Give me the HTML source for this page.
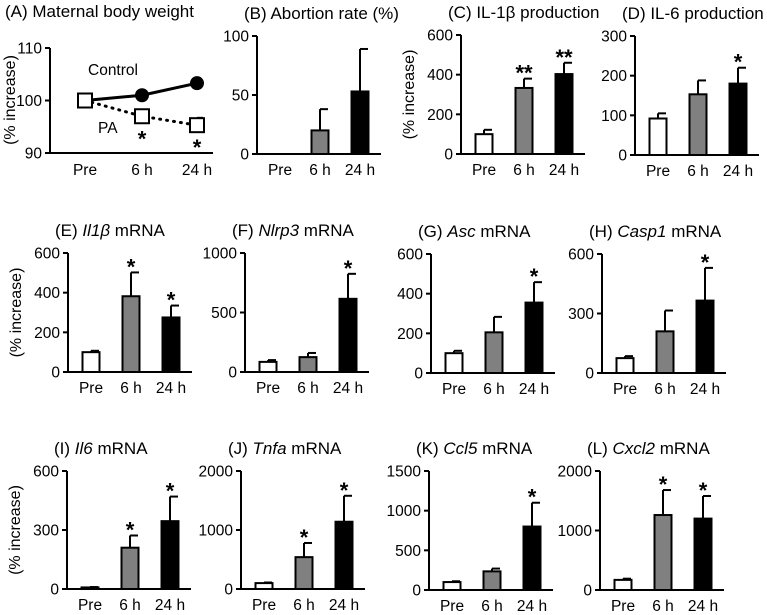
<!DOCTYPE html>
<html><head><meta charset="utf-8"><style>
body{margin:0;background:#fff}
svg{display:block;font-family:"Liberation Sans",Arial,sans-serif}
</style></head><body>
<svg id="fig" width="767" height="615" viewBox="0 0 767 615"></svg>
<script>
const categories = ["Pre","6 h","24 h"];
// Panel A line data
const controlWeight = [100, 101, 103.3];
const controlErr = [0, 0.3, 1.0];
const paWeight = [100, 97, 95.3];
const paErr = [0, 0.3, 1.4];
const paStars = [false, true, true];
const aTicks = [90, 100, 110];
// Bar panels
const valsB = [0, 20, 53];      const errB = [0, 18, 36];
const valsC = [100, 333, 403];  const errC = [22, 47, 57];
const valsD = [92, 153, 180];   const errD = [13, 35, 40];
const valsE = [100, 382, 275];  const errE = [7, 120, 60];
const valsF = [85, 125, 615];   const errF = [15, 35, 210];
const valsG = [100, 205, 355];  const errG = [12, 78, 103];
const valsH = [75, 210, 365];   const errH = [10, 105, 165];
const valsI = [8, 210, 345];    const errI = [2, 62, 125];
const valsJ = [100, 540, 1140]; const errJ = [10, 240, 440];
const valsK = [100, 235, 800];  const errK = [10, 35, 300];
const valsL = [170, 1260, 1200];const errL = [20, 420, 380];
const starsB=["","",""], starsC=["","**","**"], starsD=["","","*"], starsE=["","*","*"],
      starsF=["","","*"], starsG=["","","*"], starsH=["","","*"], starsI=["","*","*"],
      starsJ=["","*","*"], starsK=["","","*"], starsL=["","*","*"];
const ticksB=[0,50,100], ticksC=[0,200,400,600], ticksD=[0,100,200,300], ticksE=[0,200,400,600],
      ticksF=[0,500,1000], ticksG=[0,200,400,600], ticksH=[0,300,600], ticksI=[0,300,600],
      ticksJ=[0,1000,2000], ticksK=[0,500,1000,1500], ticksL=[0,1000,2000];

const svg = document.getElementById('fig');
const NS = "http://www.w3.org/2000/svg";
function el(tag, attrs, parent, text){
  const e = document.createElementNS(NS, tag);
  for (const k in attrs) e.setAttribute(k, attrs[k]);
  if (text !== undefined) e.textContent = text;
  (parent||svg).appendChild(e);
  return e;
}
function titleText(g, x, y, parts){
  const t = el('text', {x:x, y:y, 'font-size':17}, g);
  
  
  parts.forEach(p=>{ el('tspan', p[1]?{'font-style':'italic'}:{}, t, p[0]); });
}
function ylabel(g, x, yc){
  const t = el('text', {x:x, y:yc, 'font-size':16, 'text-anchor':'middle', transform:`rotate(-90 ${x} ${yc})`}, g, "(% increase)");
  
  
}
function axes(g, ax, top, zero, len, ticks, max, min){
  const sy = v => zero - (v-min)/(max-min)*(zero-top);
  el('line', {x1:ax, y1:top, x2:ax, y2:zero, stroke:'#000','stroke-width':2}, g);
  el('line', {x1:ax-1, y1:zero, x2:ax+len, y2:zero, stroke:'#000','stroke-width':2}, g);
  ticks.forEach(v=>{
    el('line', {x1:ax-5, y1:sy(v), x2:ax, y2:sy(v), stroke:'#000','stroke-width':2}, g);
    const t = el('text', {x:ax-8, y:sy(v)+5.5, 'font-size':15.5, 'text-anchor':'end'}, g, v);
    
    
  });
  return sy;
}
const offs = [23, 63, 103];
function xlabels(g, ax, zero){
  categories.forEach((c,i)=>{
    const t = el('text', {x:ax+offs[i], y:zero+21, 'font-size':15.5, 'text-anchor':'middle'}, g, c);
    
    
  });
}
function barPanel(name, ax, top, zero, ticks, vals, errs, stars, title, ylab){
  const g = el('g', {});
  
  
  titleText(g, ax-13, top-17, title);
  const sy = axes(g, ax, top, zero, 124, ticks, ticks[ticks.length-1], 0);
  const fills = ['#fff','#808080','#000'];
  vals.forEach((v,i)=>{
    const cx = ax+offs[i];
    if (errs[i]>0 && v>0){
      el('line', {x1:cx, y1:sy(v), x2:cx, y2:sy(v+errs[i]), stroke:'#000','stroke-width':2}, g);
      el('line', {x1:cx, y1:sy(v+errs[i]), x2:cx+8, y2:sy(v+errs[i]), stroke:'#000','stroke-width':2}, g);
    }
    if (v>0){
      const r = el('rect', {x:cx-8.5, y:sy(v), width:17, height:zero-sy(v), fill:fills[i], stroke:'#000','stroke-width':2}, g);
      
      
    }
    if (stars[i]){
      const t = el('text', {x:cx, y:sy(v+errs[i])+2, 'font-size':22, 'font-weight':'bold', 'text-anchor':'middle'}, g, stars[i]);
      
      
    }
  });
  xlabels(g, ax, zero);
  if (ylab) ylabel(g, ax-47, (top+zero)/2);
}
// Panel A
(function(){
  const g = el('g', {});
  
  
  titleText(g, 5, 17, [["(A) Maternal body weight",false]]);
  const ax=50, top=48, zero=153;
  const sy = axes(g, ax, top, zero, 163, aTicks, 110, 90);
  const px = [85, 142, 197];
  el('polyline', {points: controlWeight.map((v,i)=>px[i]+','+sy(v)).join(' '), fill:'none', stroke:'#000','stroke-width':3}, g);
  el('polyline', {points: paWeight.map((v,i)=>px[i]+','+sy(v)).join(' '), fill:'none', stroke:'#000','stroke-width':3,'stroke-dasharray':'1 6','stroke-linecap':'round'}, g);
  controlWeight.forEach((v,i)=>{
    if (i===0) return;
    el('line', {x1:px[i], y1:sy(v), x2:px[i], y2:sy(v+controlErr[i]), stroke:'#000','stroke-width':2}, g);
    const c = el('circle', {cx:px[i], cy:sy(v), r:7, fill:'#000'}, g);
    
    
  });
  paWeight.forEach((v,i)=>{
    if (paErr[i]>0){
      el('line', {x1:px[i], y1:sy(v), x2:px[i], y2:sy(v+paErr[i]), stroke:'#000','stroke-width':2}, g);
      el('line', {x1:px[i], y1:sy(v+paErr[i]), x2:px[i]+6, y2:sy(v+paErr[i]), stroke:'#000','stroke-width':2}, g);
    }
    const r = el('rect', {x:px[i]-7, y:sy(v)-7, width:14, height:14, fill:'#fff', stroke:'#000','stroke-width':2}, g);
    
    
    if (paStars[i]){
      const t = el('text', {x:px[i], y:sy(v)+30, 'font-size':22,'font-weight':'bold','text-anchor':'middle'}, g, '*');
      
      
    }
  });
  let t = el('text', {x:88, y:75, 'font-size':15.5}, g, 'Control');
  
  
  t = el('text', {x:98, y:133, 'font-size':15.5}, g, 'PA');
  
  
  categories.forEach((c,i)=>{
    const tt = el('text', {x:px[i], y:zero+22, 'font-size':15.5,'text-anchor':'middle'}, g, c);
    
    
  });
  ylabel(g, 15, 100);
})();
barPanel('panel-b-abortion', 257, 36, 154, ticksB, valsB, errB, starsB, [["(B) Abortion rate ",false],["(%)",false]], false);
barPanel('panel-c-il1b', 461, 35, 154, ticksC, valsC, errC, starsC, [["(C) IL-1β production",false]], true);
barPanel('panel-d-il6', 635, 36, 155, ticksD, valsD, errD, starsD, [["(D) IL-6 production",false]], false);
barPanel('panel-e-il1b-mrna', 68, 253, 372, ticksE, valsE, errE, starsE, [["(E) ",false],["Il1β",true],[" mRNA",false]], true);
barPanel('panel-f-nlrp3', 245, 253, 372, ticksF, valsF, errF, starsF, [["(F) ",false],["Nlrp3",true],[" mRNA",false]], false);
barPanel('panel-g-asc', 431, 254, 373, ticksG, valsG, errG, starsG, [["(G) ",false],["Asc",true],[" mRNA",false]], false);
barPanel('panel-h-casp1', 602, 254, 373, ticksH, valsH, errH, starsH, [["(H) ",false],["Casp1",true],[" mRNA",false]], false);
barPanel('panel-i-il6-mrna', 67, 471, 589, ticksI, valsI, errI, starsI, [["(I) ",false],["Il6",true],[" mRNA",false]], true);
barPanel('panel-j-tnfa', 241, 471, 589, ticksJ, valsJ, errJ, starsJ, [["(J) ",false],["Tnfa",true],[" mRNA",false]], false);
barPanel('panel-k-ccl5', 429, 471, 590, ticksK, valsK, errK, starsK, [["(K) ",false],["Ccl5",true],[" mRNA",false]], false);
barPanel('panel-l-cxcl2', 600, 471, 590, ticksL, valsL, errL, starsL, [["(L) ",false],["Cxcl2",true],[" mRNA",false]], false);
</script>
</body></html>
